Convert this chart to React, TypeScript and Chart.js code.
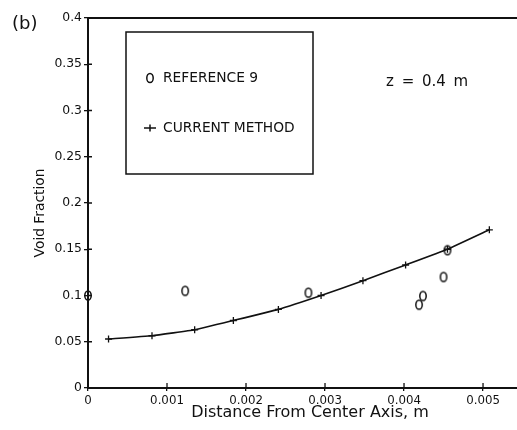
import React, { useEffect, useRef } from "react";
import { Chart, registerables } from "chart.js";

Chart.register(...registerables);

// Reference 9 (open "0" markers)
const refX = [0, 0.00123, 0.00279, 0.00419, 0.00424, 0.0045, 0.00455];
const refY = [0.1, 0.105, 0.103, 0.09, 0.0995, 0.12, 0.149];

// Current method (line with + markers)
const curX = [0.00026, 0.00081, 0.00135, 0.00184, 0.00241, 0.00295, 0.00348, 0.00402, 0.00455, 0.00508];
const curY = [0.053, 0.0565, 0.063, 0.073, 0.085, 0.1, 0.116, 0.133, 0.15, 0.171];

const xTicks = [0, 0.001, 0.002, 0.003, 0.004, 0.005];
const yTicks = [0, 0.05, 0.1, 0.15, 0.2, 0.25, 0.3, 0.35, 0.4];

const xTitle = "Distance From Center Axis, m";
const yTitle = "Void Fraction";
const legendLabels = ["REFERENCE 9", "CURRENT METHOD"];
const panelLabel = "(b)";
const noteText = "z = 0.4 m";

const INK = "#111";
const FONT = "'DejaVu Sans', sans-serif";

function makeZeroMarker(): HTMLCanvasElement {
  const c = document.createElement("canvas");
  c.width = 10;
  c.height = 13;
  const g = c.getContext("2d")!;
  g.strokeStyle = INK;
  g.lineWidth = 1.5;
  g.beginPath();
  g.ellipse(5, 6.5, 3.2, 4.6, 0, 0, Math.PI * 2);
  g.stroke();
  return c;
}

const annotPlugin = {
  id: "annot",
  afterDraw(chart: any) {
    const ctx = chart.ctx as CanvasRenderingContext2D;
    const { left, top, bottom } = chart.chartArea;
    const xs = chart.scales.x;
    const ys = chart.scales.y;
    ctx.save();
    ctx.strokeStyle = INK;
    ctx.fillStyle = INK;
    // top frame line
    ctx.lineWidth = 2;
    ctx.beginPath();
    ctx.moveTo(left, top);
    ctx.lineTo(chart.width, top);
    ctx.stroke();
    // inner tick halves
    ctx.lineWidth = 1.3;
    ctx.beginPath();
    yTicks.forEach((v) => {
      const y = ys.getPixelForValue(v);
      ctx.moveTo(left, y);
      ctx.lineTo(left + 4, y);
    });
    xTicks.forEach((v) => {
      const x = xs.getPixelForValue(v);
      ctx.moveTo(x, bottom);
      ctx.lineTo(x, bottom - 5);
    });
    ctx.stroke();

    // legend box
    ctx.lineWidth = 1.5;
    ctx.strokeRect(126, 32, 187, 142);
    ctx.lineWidth = 1.5;
    ctx.beginPath();
    ctx.ellipse(150, 78, 3.2, 4.6, 0, 0, Math.PI * 2);
    ctx.stroke();
    ctx.beginPath();
    ctx.moveTo(144, 128);
    ctx.lineTo(156, 128);
    ctx.moveTo(150, 124.5);
    ctx.lineTo(150, 131.5);
    ctx.stroke();
    ctx.font = `13.8px ${FONT}`;
    ctx.textAlign = "left";
    ctx.textBaseline = "middle";
    ctx.fillText(legendLabels[0], 163, 78);
    ctx.fillText(legendLabels[1], 163, 128.5);

    // note
    ctx.font = `15px ${FONT}`;
    (ctx as any).wordSpacing = "3px";
    ctx.fillText(noteText, 386, 82.5);
    (ctx as any).wordSpacing = "0px";

    // panel label
    ctx.font = `18px ${FONT}`;
    ctx.fillText(panelLabel, 12, 24);

    // axis titles
    ctx.textAlign = "center";
    ctx.font = `16px ${FONT}`;
    ctx.fillText(xTitle, 310, 413);
    ctx.save();
    ctx.translate(40, 213);
    ctx.rotate(-Math.PI / 2);
    ctx.font = `13.8px ${FONT}`;
    ctx.fillText(yTitle, 0, 0);
    ctx.restore();
    ctx.restore();
  },
};

export default function App() {
  const ref = useRef<HTMLCanvasElement>(null);
  useEffect(() => {
    if (!ref.current) return;
    const marker = makeZeroMarker();
    const chart = new Chart(ref.current, {
      type: "scatter",
      data: {
        datasets: [
          {
            label: legendLabels[1],
            data: curX.map((x, i) => ({ x, y: curY[i] })),
            showLine: true,
            borderColor: INK,
            borderWidth: 1.6,
            pointStyle: "cross",
            pointRadius: 3.5,
            pointBorderWidth: 1.3,
            pointBorderColor: INK,
            backgroundColor: INK,
            tension: 0.1,
            clip: false as any,
          },
          {
            label: legendLabels[0],
            data: refX.map((x, i) => ({ x, y: refY[i] })),
            showLine: false,
            pointStyle: marker as any,
            pointRadius: 5,
            clip: false as any,
          },
        ],
      },
      plugins: [annotPlugin],
      options: {
        animation: false,
        responsive: true,
        maintainAspectRatio: false,
        layout: { autoPadding: false, padding: { top: 18, left: 0, right: 0, bottom: 0 } },
        plugins: { legend: { display: false }, tooltip: { enabled: false } },
        scales: {
          x: {
            type: "linear",
            min: 0,
            max: 0.00543,
            afterBuildTicks: (s: any) => {
              s.ticks = xTicks.map((value) => ({ value }));
            },
            afterFit: (s: any) => {
              s.height = 42;
              s.paddingLeft = 0;
              s.paddingRight = 0;
            },
            ticks: {
              callback: (v: any) => String(v),
              color: INK,
              font: { family: FONT, size: 11.8 },
              padding: 3,
              maxRotation: 0,
            },
            grid: { drawOnChartArea: false, color: INK, lineWidth: 1.3, tickLength: 3 },
            border: { display: true, color: INK, width: 2 },
          },
          y: {
            type: "linear",
            min: 0,
            max: 0.4,
            afterBuildTicks: (s: any) => {
              s.ticks = yTicks.map((value) => ({ value }));
            },
            afterFit: (s: any) => {
              s.width = 88;
              s.paddingTop = 0;
              s.paddingBottom = 0;
            },
            ticks: {
              callback: (v: any) => String(v),
              color: INK,
              font: { family: FONT, size: 12.4 },
              padding: 2,
            },
            grid: { drawOnChartArea: false, color: INK, lineWidth: 1.3, tickLength: 4 },
            border: { display: true, color: INK, width: 2 },
          },
        },
      },
    });
    return () => chart.destroy();
  }, []);
  return (
    <div style={{ position: "absolute", left: 0, top: 0, width: 517, height: 430, background: "#fff" }}>
      <canvas ref={ref} />
    </div>
  );
}
